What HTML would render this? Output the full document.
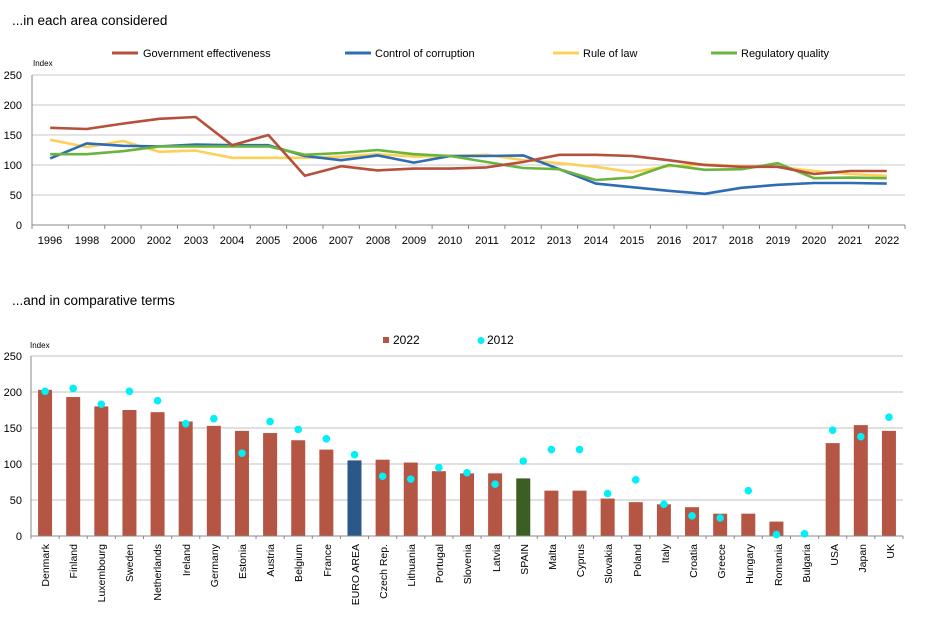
<!DOCTYPE html>
<html><head><meta charset="utf-8"><style>
body{margin:0;background:#fff;}
svg{display:block;font-family:"Liberation Sans",Arial,sans-serif;}
</style></head><body>
<svg id="s" width="936" height="621" viewBox="0 0 936 621">
<text x="12" y="25" font-size="13.5" fill="#000">...in each area considered</text>
<line x1="112" y1="53" x2="138" y2="53" stroke="#b5503d" stroke-width="3"/>
<text x="143" y="57" font-size="11">Government effectiveness</text>
<line x1="345" y1="53" x2="371" y2="53" stroke="#2e6db4" stroke-width="3"/>
<text x="375" y="57" font-size="11">Control of corruption</text>
<line x1="553" y1="53" x2="579" y2="53" stroke="#fdd05a" stroke-width="3"/>
<text x="583" y="57" font-size="11">Rule of law</text>
<line x1="711" y1="53" x2="737" y2="53" stroke="#6ab43c" stroke-width="3"/>
<text x="741" y="57" font-size="11">Regulatory quality</text>
<text x="33" y="66" font-size="8">Index</text>
<g font-size="11" text-anchor="end">
<text x="22" y="79">250</text><text x="22" y="109">200</text><text x="22" y="139">150</text><text x="22" y="169">100</text><text x="22" y="199">50</text><text x="22" y="229">0</text>
</g>
<g id="topgrid"></g>
<g font-size="11" text-anchor="middle">
<text x="50" y="244">1996</text><text x="87" y="244">1998</text><text x="123" y="244">2000</text><text x="159" y="244">2002</text><text x="196" y="244">2003</text><text x="232" y="244">2004</text><text x="268" y="244">2005</text><text x="305" y="244">2006</text><text x="341" y="244">2007</text><text x="378" y="244">2008</text><text x="414" y="244">2009</text><text x="450" y="244">2010</text><text x="487" y="244">2011</text><text x="523" y="244">2012</text><text x="559" y="244">2013</text><text x="596" y="244">2014</text><text x="632" y="244">2015</text><text x="669" y="244">2016</text><text x="705" y="244">2017</text><text x="741" y="244">2018</text><text x="778" y="244">2019</text><text x="814" y="244">2020</text><text x="850" y="244">2021</text><text x="887" y="244">2022</text>
</g>

<text x="12" y="305" font-size="13.5">...and  in comparative terms</text>
<rect x="383" y="337" width="6" height="6" fill="#b55543"/>
<text x="393" y="344" font-size="12">2022</text>
<circle cx="481" cy="340.5" r="3.5" fill="#00f0f5"/>
<text x="487" y="344" font-size="12">2012</text>
<text x="30" y="348" font-size="8">Index</text>
<g font-size="11" text-anchor="end">
<text x="22" y="360">250</text><text x="22" y="396">200</text><text x="22" y="432">150</text><text x="22" y="468">100</text><text x="22" y="504">50</text><text x="22" y="540">0</text>
</g>
<g id="bot"></g>
<g font-size="10.5" text-anchor="end">
<text transform="translate(49,544) rotate(-90)">Denmark</text>
<text transform="translate(77,544) rotate(-90)">Finland</text>
<text transform="translate(105,544) rotate(-90)">Luxembourg</text>
<text transform="translate(133,544) rotate(-90)">Sweden</text>
<text transform="translate(161,544) rotate(-90)">Netherlands</text>
<text transform="translate(190,544) rotate(-90)">Ireland</text>
<text transform="translate(218,544) rotate(-90)">Germany</text>
<text transform="translate(246,544) rotate(-90)">Estonia</text>
<text transform="translate(274,544) rotate(-90)">Austria</text>
<text transform="translate(302,544) rotate(-90)">Belgium</text>
<text transform="translate(331,544) rotate(-90)">France</text>
<text transform="translate(359,544) rotate(-90)">EURO AREA</text>
<text transform="translate(387,544) rotate(-90)">Czech Rep.</text>
<text transform="translate(415,544) rotate(-90)">Lithuania</text>
<text transform="translate(443,544) rotate(-90)">Portugal</text>
<text transform="translate(471,544) rotate(-90)">Slovenia</text>
<text transform="translate(500,544) rotate(-90)">Latvia</text>
<text transform="translate(528,544) rotate(-90)">SPAIN</text>
<text transform="translate(556,544) rotate(-90)">Malta</text>
<text transform="translate(584,544) rotate(-90)">Cyprus</text>
<text transform="translate(612,544) rotate(-90)">Slovakia</text>
<text transform="translate(641,544) rotate(-90)">Poland</text>
<text transform="translate(669,544) rotate(-90)">Italy</text>
<text transform="translate(697,544) rotate(-90)">Croatia</text>
<text transform="translate(725,544) rotate(-90)">Greece</text>
<text transform="translate(753,544) rotate(-90)">Hungary</text>
<text transform="translate(782,544) rotate(-90)">Romania</text>
<text transform="translate(810,544) rotate(-90)">Bulgaria</text>
<text transform="translate(838,544) rotate(-90)">USA</text>
<text transform="translate(866,544) rotate(-90)">Japan</text>
<text transform="translate(894,544) rotate(-90)">UK</text>
</g>
</svg>
<script>
var NS="http://www.w3.org/2000/svg";
function el(p,t,a){var e=document.createElementNS(NS,t);for(var k in a)e.setAttribute(k,a[k]);p.appendChild(e);return e;}
var tg=document.getElementById('topgrid');
for(var v=50;v<=250;v+=50){var y=225-0.6*v;el(tg,'line',{x1:32,x2:905,y1:y,y2:y,stroke:'#c8c8c8','stroke-width':1});}
el(tg,'line',{x1:32,x2:32,y1:75,y2:225,stroke:'#888'});
el(tg,'line',{x1:32,x2:905,y1:225,y2:225,stroke:'#888'});
var st=873/24;
for(var i=0;i<=24;i++){var x=32+st*i;el(tg,'line',{x1:x,x2:x,y1:225,y2:229,stroke:'#888'});}
var S=[
['#fdd05a',[142,130,140,122,124,112,112,112,114,118,114,115,117,108,103,97,88,98,101,98,97,90,85,82]],
['#2e6db4',[111,136,132,131,134,133,133,115,108,116,104,115,115,116,93,69,63,57,52,62,67,70,70,69]],
['#6ab43c',[118,118,123,131,131,131,131,117,120,125,118,115,105,95,93,75,79,100,92,93,103,78,79,78]],
['#b5503d',[162,160,169,177,180,133,150,82,98,91,94,94,96,105,117,117,115,108,100,97,97,85,90,90]]];
S.forEach(function(s){var p=s[1].map(function(v,i){return (32+st*(i+0.5)).toFixed(1)+','+(225-0.6*v).toFixed(1)}).join(' ');
el(tg,'polyline',{points:p,fill:'none',stroke:s[0],'stroke-width':2.6,'stroke-linejoin':'round'});});
var b=document.getElementById('bot');
for(var v=50;v<=250;v+=50){var y=536-0.72*v;el(b,'line',{x1:31,x2:903,y1:y,y2:y,stroke:'#c0c0c0','stroke-width':1});}
el(b,'line',{x1:31,x2:31,y1:356,y2:536,stroke:'#888'});
var sb=872/31;
var B=[203,193,180,175,172,159,153,146,143,133,120,105,106,102,90,87,87,80,63,63,52,47,44,40,31,31,20,0,129,154,146];
var D=[201,205,183,201,188,156,163,115,159,148,135,113,83,79,95,88,72,104,120,120,59,78,44,28,25,63,2,3,147,138,165];
B.forEach(function(v,i){var c=31+sb*(i+0.5);var col=i==11?'#2b5889':(i==17?'#3b5e22':'#b55543');
if(v>0)el(b,'rect',{x:c-7,y:536-0.72*v,width:14,height:0.72*v,fill:col});});
el(b,'line',{x1:31,x2:903,y1:536,y2:536,stroke:'#888'});
for(var i=0;i<=31;i++){var x=31+sb*i;el(b,'line',{x1:x,x2:x,y1:536,y2:539,stroke:'#888'});}
D.forEach(function(v,i){var c=31+sb*(i+0.5);el(b,'circle',{cx:c,cy:536-0.72*v,r:3.8,fill:'#00f0f5'});});
</script>
</body></html>
